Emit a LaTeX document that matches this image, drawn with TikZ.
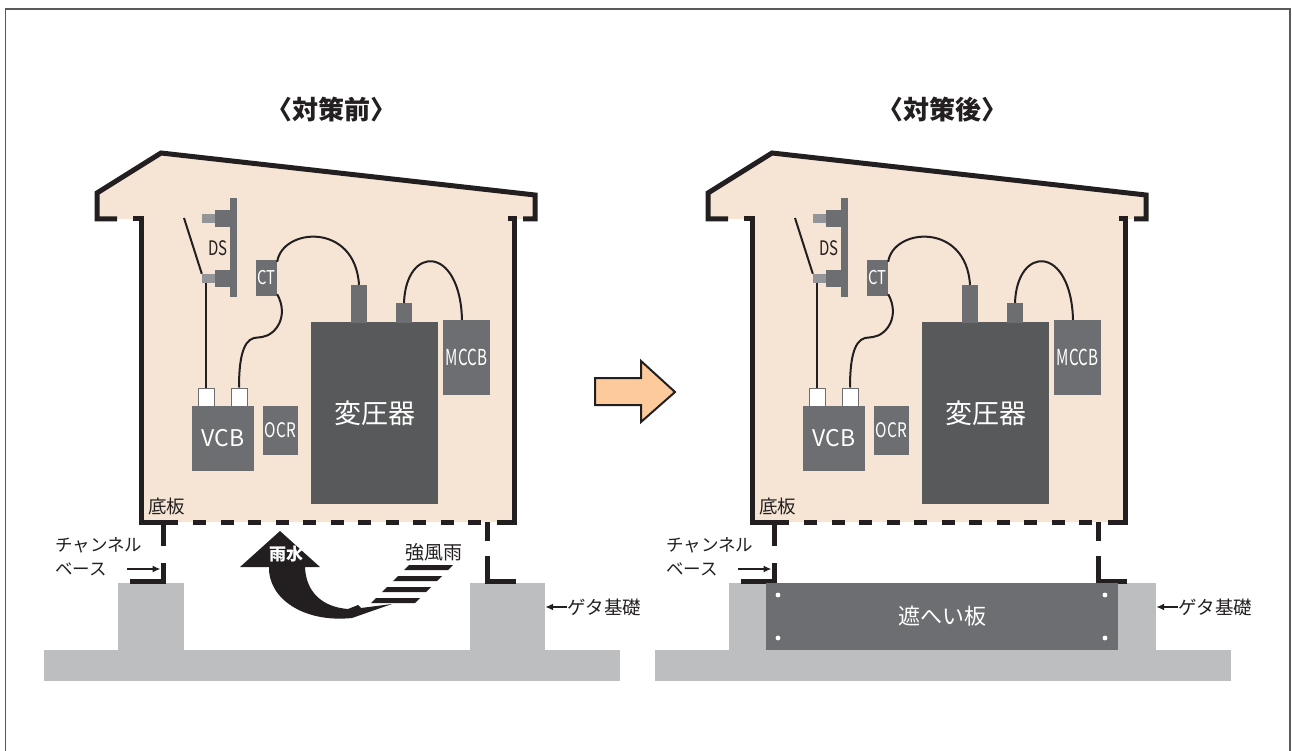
\documentclass[tikz,border=0pt]{standalone}
\usepackage{fontspec}
\setmainfont{Noto Sans CJK JP}
\usetikzlibrary{arrows.meta}

\definecolor{wallbeige}{HTML}{F6E5D5}
\definecolor{partgray}{HTML}{6D6E71}
\definecolor{trgray}{HTML}{58595B}
\definecolor{stemgray}{HTML}{939598}
\definecolor{basegray}{HTML}{BCBEC0}
\definecolor{inkblack}{HTML}{231F20}
\definecolor{framegray}{HTML}{5A5A5A}
\definecolor{arroworange}{HTML}{FDCB9B}

\begin{document}
\begin{tikzpicture}[x=1pt, y=-1pt,
    wall/.style={draw=inkblack, line width=5pt},
    wire/.style={draw=inkblack, line width=2pt},
    part/.style={fill=partgray, inner sep=0pt, text=white},
    stem/.style={fill=stemgray, inner sep=0pt},
    term/.style={fill=white, draw=partgray, line width=1pt, inner sep=0pt, minimum width=16pt, minimum height=18pt},
    lbl/.style={inner sep=0pt, text=inkblack},
    ptr/.style={draw=inkblack, line width=1.8pt, -{Latex[length=8pt, width=7pt]}},
    ground/.style={fill=basegray, inner sep=0pt}]

\useasboundingbox (0,0) rectangle (1292,751);

% Outer frame
\draw[framegray, line width=1.5pt] (5.5,751) -- (5.5,9) -- (1290,9) -- (1290,751);

% Both substations, before and after
\foreach \s/\dx/\ttl in {L/0/前, R/611/後} {
\begin{scope}[xshift=\dx]

% Title
\node[lbl, font=\bfseries\fontsize{26}{26}\selectfont] (ttl\s) at (331,110) {〈対策\ttl〉};

% Foundation
\fill[basegray] (44,650) rectangle (620,681);
\node[ground, minimum width=66, minimum height=67] (piera\s) at (151,616.5) {};
\node[ground, minimum width=75, minimum height=67] (pierb\s) at (507.5,616.5) {};

% House body and roof
\fill[wallbeige] (97,219) -- (97,193) -- (161,153) -- (535,195) -- (535,219) -- (514,219)
    -- (514,522) -- (141,522) -- (141,219) -- cycle;
\draw[wall] (117,219) -- (97,219) -- (97,193) -- (161,153) -- (535,195) -- (535,219) -- (523,219);
\draw[wall] (133,219) -- (141,219) -- (141,522) -- (178,522);
\draw[wall] (508,219) -- (514,219) -- (514,522) -- (497,522);

% Floor plate (dashed)
\foreach \k in {0,...,10}
    \fill[inkblack] (193+27.5*\k,519.5) rectangle ++(13,5);

% Channel bases
\draw[wall] (163,522) -- (163,546);
\draw[wall] (163,563) -- (163,581) -- (130,581);
\draw[wall] (487,522) -- (487,541);
\draw[wall] (487,556) -- (487,581) -- (516,581);
\coordinate (chan\s) at (160.5,569);

% Disconnecting switch
\fill[partgray] (230,198) rectangle (237,297);
\node[part, minimum width=15, minimum height=17] (dsa\s) at (222.5,218.5) {};
\node[part, minimum width=15, minimum height=17] (dsb\s) at (222.5,278.5) {};
\node[stem, minimum width=13, minimum height=9] (stema\s) at (208.5,218.5) {};
\node[stem, minimum width=13, minimum height=9] (stemb\s) at (208.5,278.5) {};
\coordinate (blade\s) at (184,218);
\draw[wire] (blade\s) -- (stemb\s.north west);
\node[lbl, font=\fontsize{20}{20}\selectfont] (ds\s) at (218,248) {\scalebox{0.75}[1]{DS}};

% CT
\node[part, minimum width=21, minimum height=36, font=\fontsize{19}{19}\selectfont] (ct\s) at (266.5,278) {\scalebox{0.78}[1]{CT}};

% Transformer with its terminals
\node[fill=trgray, inner sep=0pt, text=white, minimum width=127, minimum height=182,
    font=\fontsize{27}{27}\selectfont] (tr\s) at (374.5,413) {変圧器};
\node[part, minimum width=16, minimum height=38] (tapa\s) at (359,304) {};
\node[part, minimum width=16, minimum height=20] (tapb\s) at (404,313) {};

% MCCB
\node[part, minimum width=47, minimum height=75, font=\fontsize{22}{22}\selectfont] (mccb\s) at (466.5,357.5) {\scalebox{0.69}[1]{MCCB}};

% VCB and OCR
\node[part, minimum width=62, minimum height=65, font=\fontsize{23}{23}\selectfont] (vcb\s) at (223,438.5) {VCB};
\node[term] (vcbta\s) at (206,397) {};
\node[term] (vcbtb\s) at (239,397) {};
\node[part, minimum width=35, minimum height=49, font=\fontsize{20}{20}\selectfont] (ocr\s) at (280.5,430.5) {\scalebox{0.77}[1]{OCR}};

% Wiring
\draw[wire] ([yshift=-2pt]ct\s.north east) .. controls +(5,-34) and +(-4,-63) .. (tapa\s.north);
\draw[wire] (tapb\s.north) .. controls +(2,-58) and +(-2,-75) .. ([xshift=-4.5pt]mccb\s.north);
\draw[wire] ([yshift=2pt]ct\s.south east) .. controls +(12,22) and +(14,-2) .. (262,337) -- (254,338)
    .. controls +(-12,3) and +(0,-25) .. (vcbtb\s.north);
\draw[wire] (vcbta\s.north |- stemb\s.south) -- (vcbta\s.north);

% Labels
\node[lbl, font=\fontsize{18.5}{18.5}\selectfont] (floor\s) at (166.5,506) {底板};
\node[lbl, anchor=west, font=\fontsize{17.5}{17.5}\selectfont] (chana\s) at (55,545) {チャンネル};
\node[lbl, anchor=west, font=\fontsize{17.5}{17.5}\selectfont] (chanb\s) at (55,569) {ベース};
\draw[ptr] ([xshift=20pt]chanb\s.east) -- (chan\s);
\node[lbl, anchor=west, font=\fontsize{18.5}{18.5}\selectfont] (geta\s) at (567,607) {ゲタ基礎};
\draw[ptr] (geta\s.west) -- (geta\s.west -| pierb\s.east);

\end{scope}
}

% Center arrow
\draw[inkblack, line width=2pt, fill=arroworange] (595,378) -- (641,378) -- (641,361) -- (675,392)
    -- (641,422) -- (641,405) -- (595,405) -- cycle;

% Wind-driven rain
\foreach \k in {0,...,3}
    \fill[inkblack] (404-11*\k,570+11*\k) -- ++(44,0) -- ++(5,-5) -- ++(-44,0) -- cycle;
\fill[inkblack] (280,531) -- (320,567) -- (305,567)
    .. controls (306,592) and (322,607) .. (348,609) -- (358,605) -- (361,608) -- (392,604)
    -- (352,618) .. controls (303,623) and (268,598) .. (269,567) -- (240,567) -- cycle;
\node[lbl, text=white, font=\bfseries\fontsize{17}{17}\selectfont] (rain) at (286,554) {雨水};
\node[lbl, font=\fontsize{19}{19}\selectfont] (gale) at (434,552) {強風雨};

% Shield plate
\node[fill=partgray, inner sep=0pt, text=white, minimum width=352, minimum height=67,
    font=\fontsize{22}{22}\selectfont] (plate) at (942,616.5) {遮へい板};
\foreach \px/\py in {778/595, 1105/595, 778/638, 1105/638}
    \fill[white] (\px,\py) circle (2.4);

\end{tikzpicture}
\end{document}
